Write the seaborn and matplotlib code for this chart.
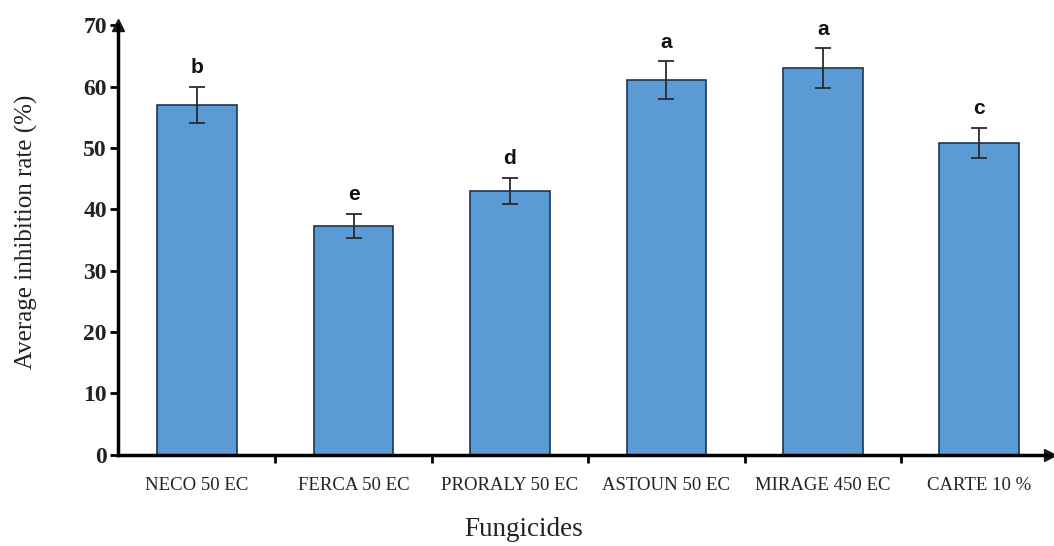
import matplotlib
matplotlib.use("Agg")
import matplotlib.pyplot as plt
import seaborn as sns
import pandas as pd

categories = ["NECO 50 EC", "FERCA 50 EC", "PRORALY 50 EC", "ASTOUN 50 EC", "MIRAGE 450 EC", "CARTE 10 %"]
values = [57.0, 37.3, 43.0, 61.0, 63.0, 50.8]
errors = [3.0, 2.0, 2.1, 3.1, 3.2, 2.5]
letters = ["b", "e", "d", "a", "a", "c"]
yticks = [0, 10, 20, 30, 40, 50, 60, 70]

sns.set_theme(style="white")
plt.rcParams["font.family"] = ["Liberation Serif", "DejaVu Serif"]

df = pd.DataFrame({"Fungicides": categories, "rate": values})

fig = plt.figure(figsize=(10.54, 5.46), dpi=100)
ax = fig.add_axes([0.112, 0.167, 0.884, 0.787])

sns.barplot(data=df, x="Fungicides", y="rate", ax=ax, color="#5B9BD5",
            saturation=1, width=0.51, edgecolor="#1F3550", linewidth=1.2, errorbar=None)
xs = list(range(len(categories)))
ax.errorbar(xs, values, yerr=errors, fmt="none", ecolor="#2B2B2B", elinewidth=1.3,
            capsize=6, capthick=1.3)
for x, v, e, l in zip(xs, values, errors, letters):
    ax.text(x, v + e + 1.6, l, ha="center", va="bottom", fontsize=15, fontweight="bold",
            family="Liberation Sans", color="#111111")

ax.set_xlim(-0.505, 5.45)
ax.set_ylim(0, 70)
ax.set_yticks(yticks)
ax.set_yticklabels([str(t) for t in yticks], fontsize=17, fontweight="bold", color="#222222")
ax.set_xticks(xs)
ax.set_xticklabels(categories, fontsize=13.5, color="#222222")
ax.tick_params(axis="x", length=0, pad=16)
ax.set_xticks([i + 0.5 for i in range(len(categories) - 1)], minor=True)
ax.tick_params(axis="x", which="minor", length=6, width=2, color="black", direction="out", bottom=True)
ax.tick_params(axis="y", length=6, width=2, color="black", direction="out", left=True, pad=2)

for s in ["top", "right"]:
    ax.spines[s].set_visible(False)
for s in ["left", "bottom"]:
    ax.spines[s].set_linewidth(2.5)
    ax.spines[s].set_color("black")

ax.plot(1, 0, ">k", transform=ax.transAxes, clip_on=False, markersize=9)
ax.plot(0, 1, "^k", transform=ax.transAxes, clip_on=False, markersize=9)

ax.set_ylabel("Average inhibition rate (%)", fontsize=18, color="#222222")
ax.yaxis.set_label_coords(-0.086, 0.52)
ax.set_xlabel("Fungicides", fontsize=19.5, color="#222222", va="top")
ax.xaxis.set_label_coords(0.435, -0.145)

fig.savefig("out.png", dpi=100)
